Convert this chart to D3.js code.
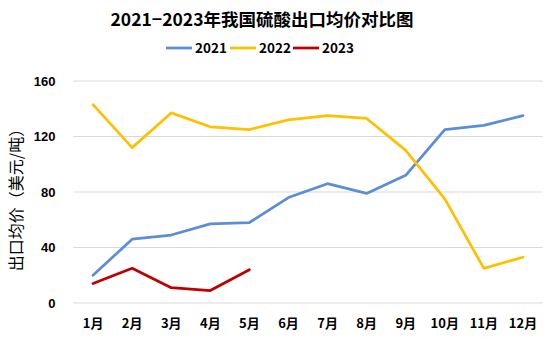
<!DOCTYPE html>
<html>
<head>
<meta charset="utf-8">
<script src="https://cdn.jsdelivr.net/npm/d3@7/dist/d3.min.js"></script>
<style>
  html, body { margin: 0; padding: 0; background: #fff; }
  svg { display: block; }
  text { font-family: "Noto Sans CJK SC", "Noto Sans", sans-serif; }
</style>
</head>
<body>
<svg id="chart" width="549" height="340"></svg>
<script>
// Monthly average export price of sulfuric acid (USD/ton)
const months = ["1月","2月","3月","4月","5月","6月","7月","8月","9月","10月","11月","12月"];
const values2021 = [20, 46, 49, 57, 58, 76, 86, 79, 92, 125, 128, 135];
const values2022 = [143, 112, 137, 127, 125, 132, 135, 133, 110, 75, 25, 33];
const values2023 = [14, 25, 11, 9, 24];
const yTicks = [0, 40, 80, 120, 160];

const seriesList = [
  { name: "2021", values: values2021, color: "#5B8ED6" },
  { name: "2022", values: values2022, color: "#FFC000" },
  { name: "2023", values: values2023, color: "#C00000" }
];

const svg = d3.select("#chart");
const margin = { left: 73.5, right: 6.5, top: 81, bottom: 37 };
const W = 549, H = 340;

const x = d3.scaleBand().domain(months).range([margin.left, W - margin.right]);
const y = d3.scaleLinear().domain([0, 160]).range([H - margin.bottom, margin.top]);

// Horizontal gridlines
svg.append("g").selectAll("line").data(yTicks).join("line")
  .attr("x1", margin.left).attr("x2", W - margin.right)
  .attr("y1", d => y(d)).attr("y2", d => y(d))
  .attr("stroke", "#D9D9D9").attr("stroke-width", 1);

// Y axis labels
const yAxis = svg.append("g")
  .attr("transform", `translate(${margin.left - 18},0)`)
  .call(d3.axisLeft(y).tickValues(yTicks).tickSize(0).tickPadding(0));
yAxis.select(".domain").remove();
yAxis.selectAll("text")
  .attr("font-size", 13).attr("font-weight", "bold").attr("fill", "#000")
  .style("font-family", "'Liberation Sans', Arial, sans-serif");

// X axis labels
const xAxis = svg.append("g")
  .attr("transform", `translate(0,${H - margin.bottom + 8})`)
  .call(d3.axisBottom(x).tickSize(0).tickPadding(8));
xAxis.select(".domain").remove();
xAxis.selectAll("text")
  .attr("font-size", 13).attr("font-weight", "bold").attr("fill", "#000");

// Lines
const line = d3.line()
  .x((d, i) => x(months[i]) + x.bandwidth() / 2)
  .y(d => y(d));

svg.append("g").selectAll("path").data(seriesList).join("path")
  .attr("d", s => line(s.values))
  .attr("fill", "none")
  .attr("stroke", s => s.color)
  .attr("stroke-width", 2.75)
  .attr("stroke-linejoin", "round")
  .attr("stroke-linecap", "round");

// Title
svg.append("text")
  .attr("x", 262).attr("y", 26)
  .attr("text-anchor", "middle")
  .attr("font-size", 17.5).attr("font-weight", "bold")
  .text("2021−2023年我国硫酸出口均价对比图");

// Legend
const legendX = [166, 230, 293];
const legend = svg.append("g").selectAll("g").data(seriesList).join("g")
  .attr("transform", (d, i) => `translate(${legendX[i]},48)`);
legend.append("line")
  .attr("x1", 0).attr("x2", 26).attr("y1", 0).attr("y2", 0)
  .attr("stroke", d => d.color).attr("stroke-width", 2.75);
legend.append("text")
  .attr("x", 29).attr("y", 5)
  .attr("font-size", 13.5).attr("font-weight", "bold")
  .text(d => d.name);

// Y axis title
svg.append("text")
  .attr("transform", `translate(22,196) rotate(-90)`)
  .attr("text-anchor", "middle")
  .attr("font-size", 16)
  .text("出口均价（美元/吨）");
</script>
</body>
</html>
